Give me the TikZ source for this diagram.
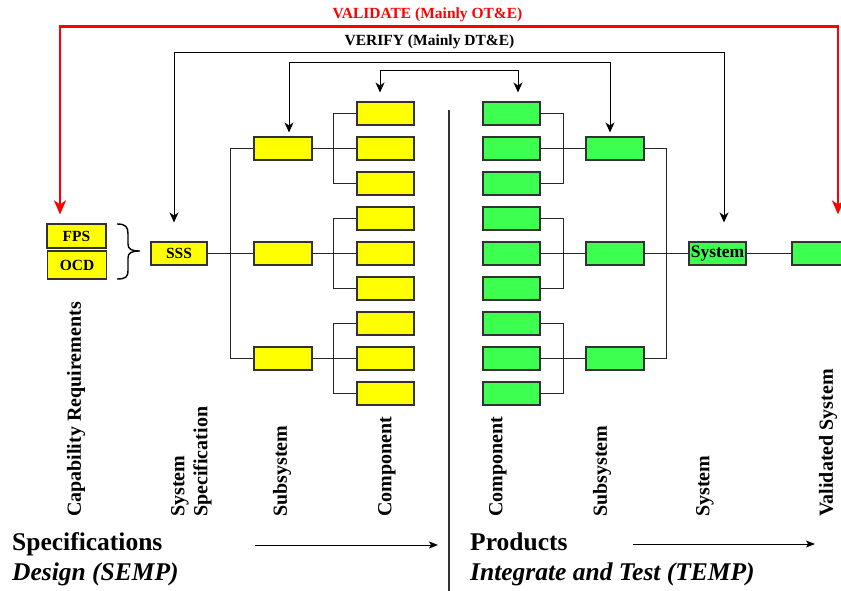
\documentclass[tikz,border=0pt]{standalone}
\usepackage{fontspec}
\setmainfont{Liberation Serif}
\usetikzlibrary{arrows.meta}
\definecolor{yel}{RGB}{255,255,0}
\definecolor{grn}{RGB}{60,255,80}
\definecolor{bord}{RGB}{50,50,50}
\definecolor{vred}{RGB}{255,0,0}
\begin{document}
\begin{tikzpicture}[x=1pt,y=-1pt,
  box/.style={draw=bord, line width=1.1pt, minimum width=57pt, minimum height=23pt, inner sep=0pt, font=\fontsize{15.5}{17}\selectfont\bfseries},
  ybox/.style={box, fill=yel},
  gbox/.style={box, fill=grn},
  conn/.style={line width=1pt, draw=black!85},
  darr/.style={line width=1pt, {Stealth[length=10pt,width=9pt,inset=3pt]}-{Stealth[length=10pt,width=9pt,inset=3pt]}},
  rarr/.style={line width=2.6pt, draw=vred, {Stealth[length=14pt,width=12pt,inset=4pt]}-{Stealth[length=14pt,width=12pt,inset=4pt]}},
  flowarr/.style={line width=1pt, -{Stealth[length=9pt,width=7pt,inset=2pt]}},
  vlab/.style={rotate=90, anchor=west, inner sep=0pt, align=left, font=\fontsize{20}{23}\selectfont\bfseries},
  toplab/.style={anchor=base, inner sep=0pt, font=\fontsize{15.5}{18}\selectfont\bfseries},
  biglab/.style={anchor=base west, inner sep=0pt, font=\fontsize{25.5}{30}\selectfont\bfseries}
]
\useasboundingbox (0,0) rectangle (841,591);
\fill[white] (0,0) rectangle (841,591);

% capability requirements
\node[ybox, minimum width=59pt, minimum height=24pt] (fps) at (76.5,236) {FPS};
\node[ybox, minimum width=59pt, minimum height=28pt] (ocd) at (77,265) {OCD};
\draw[line width=1.4pt] (117,224) .. controls (126,224) and (128,227) .. (128,234) -- (128,244)
  .. controls (128,249) and (131,251) .. (140,251)
  .. controls (131,251) and (128,253) .. (128,258) -- (128,270)
  .. controls (128,277) and (126,279) .. (117,279);

% design side
\node[ybox, minimum width=56pt] (sss) at (179,253.5) {SSS};
\node[ybox, minimum width=58pt] (ysub1) at (283,148.5) {};
\node[ybox, minimum width=58pt] (ysub2) at (283,253.5) {};
\node[ybox, minimum width=58pt] (ysub3) at (283,358.5) {};
\foreach \i in {1,...,9} {
  \node[ybox] (yc\i) at (385.5,78.5+35*\i) {};
  \node[gbox] (gc\i) at (511.5,78.5+35*\i) {};
}
\draw[conn] (sss.east) -- (ysub2.west);
\draw[conn] (ysub1.west) -- ++(-23,0) |- (ysub3.west);
\foreach \s/\a/\b/\c in {1/1/2/3, 2/4/5/6, 3/7/8/9} {
  \draw[conn] (ysub\s.east) -- (yc\b.west);
  \draw[conn] (yc\a.west) -- ++(-23,0) |- (yc\c.west);
}

% integrate side
\node[gbox, minimum width=58pt] (gsub1) at (615,148.5) {};
\node[gbox, minimum width=58pt] (gsub2) at (615,253.5) {};
\node[gbox, minimum width=58pt] (gsub3) at (615,358.5) {};
\node[gbox, font=\fontsize{17.5}{19}\selectfont\bfseries] (sys) at (717.5,253.5) {System};
\node[gbox, minimum width=58pt] (val) at (821,253.5) {};
\foreach \s/\a/\b/\c in {1/1/2/3, 2/4/5/6, 3/7/8/9} {
  \draw[conn] (gc\b.east) -- (gsub\s.west);
  \draw[conn] (gc\a.east) -- ++(23,0) |- (gc\c.east);
}
\draw[conn] (gsub1.east) -- ++(22,0) |- (gsub3.east);
\draw[conn] (gsub2.east) -- (sys.west);
\draw[conn] (sys.east) -- (val.west);

% divider
\coordinate (dtop) at (449,110);
\coordinate (dbot) at (449,591);
\draw[line width=1.1pt, draw=bord] (dtop) -- (dbot);

% verification / validation loops
\draw[darr, shorten <=9pt, shorten >=9pt] ([xshift=-5.5pt]yc1.north) -- ++(0,-31) -| ([xshift=6.5pt]gc1.north);
\draw[darr, shorten <=4pt, shorten >=4pt] ([xshift=6pt]ysub1.north) -- ++(0,-74) -| ([xshift=-5pt]gsub1.north);
\draw[darr, shorten <=19pt, shorten >=19pt] ([xshift=-5pt]sss.north) -- ++(0,-189) -| ([xshift=6.5pt]sys.north);
\draw[rarr, shorten <=9pt, shorten >=27pt] ([xshift=-16.5pt]fps.north) -- ++(0,-197) -| ([xshift=17pt]val.north);
\node[toplab, text=vred] (validate) at (427.5,18.5) {VALIDATE (Mainly OT\&E)};
\node[toplab] (verify) at (429.5,46) {VERIFY (Mainly DT\&E)};

% column labels
\node[vlab] (lcap) at (76,517) {Capability Requirements};
\node[vlab] (lss) at (191.5,517) {System\\Specification};
\node[vlab] (lysub) at (282,517) {Subsystem};
\node[vlab] (lycomp) at (387,517) {Component};
\node[vlab] (lgcomp) at (498,517) {Component};
\node[vlab] (lgsub) at (602,517) {Subsystem};
\node[vlab] (lsys) at (705,517) {System};
\node[vlab] (lval) at (828,517) {Validated System};

% bottom phases
\node[biglab] (spec) at (12,550) {Specifications};
\node[biglab, font=\fontsize{25.5}{30}\selectfont\bfseries\itshape] (design) at (12,580) {Design (SEMP)};
\node[biglab] (prod) at (470,550) {Products};
\node[biglab, font=\fontsize{25.5}{30}\selectfont\bfseries\itshape] (integ) at (470,580) {Integrate and Test (TEMP)};
\coordinate (a1s) at (255,545);
\coordinate (a1e) at (438,545);
\coordinate (a2s) at (633,544);
\coordinate (a2e) at (815,544);
\draw[flowarr] (a1s) -- (a1e);
\draw[flowarr] (a2s) -- (a2e);
\end{tikzpicture}
\end{document}
